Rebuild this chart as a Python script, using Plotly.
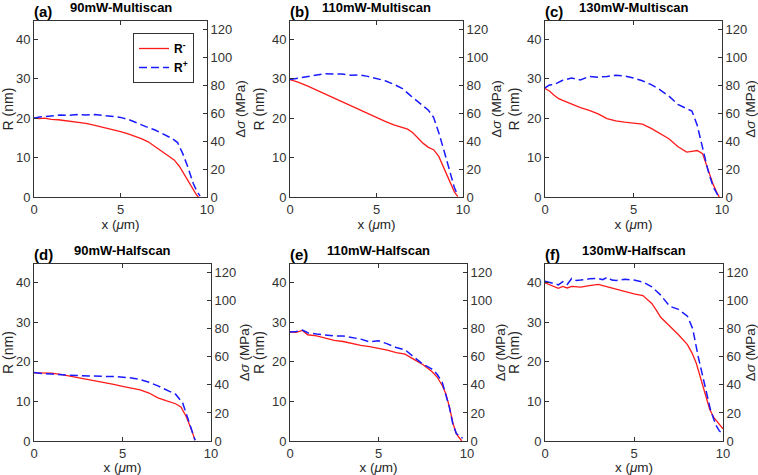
import plotly.graph_objects as go

# ---------------- data (x in µm, R in nm) ----------------
titles = ["90mW-Multiscan", "110mW-Multiscan", "130mW-Multiscan",
          "90mW-Halfscan", "110mW-Halfscan", "130mW-Halfscan"]
labels = ["(a)", "(b)", "(c)", "(d)", "(e)", "(f)"]

xm_a = [0, 0.3, 0.6, 1, 1.4, 1.8, 2.2, 2.6, 3, 3.4, 3.8, 4.2, 4.6, 5, 5.4, 5.8, 6.2, 6.6, 7, 7.4, 7.8, 8.1, 8.4, 8.7, 9, 9.2, 9.4, 9.5]
rm_a = [20.1, 19.9, 20.0, 19.7, 19.6, 19.4, 19.1, 19.0, 18.7, 18.3, 17.9, 17.5, 17.1, 16.6, 16.1, 15.5, 14.8, 14.0, 12.8, 11.7, 10.4, 9.4, 7.8, 5.6, 3.3, 1.8, 0.5, 0]
xp_a = [0, 0.3, 0.6, 1, 1.5, 2, 2.5, 3, 3.5, 4, 4.5, 5, 5.5, 6, 6.5, 7, 7.5, 8, 8.3, 8.6, 8.9, 9.2, 9.4, 9.6]
rp_a = [20.0, 20.3, 20.4, 20.6, 20.8, 20.7, 20.9, 20.8, 20.9, 20.7, 20.5, 20.2, 19.6, 18.6, 17.8, 17.0, 16.0, 14.8, 13.8, 11.0, 7.5, 3.5, 1.6, 0.2]

xm_b = [0, 0.25, 0.5, 1, 1.5, 2, 2.5, 3, 3.5, 4, 4.5, 5, 5.5, 6, 6.5, 6.8, 7.1, 7.4, 7.7, 8, 8.3, 8.6, 8.9, 9.2, 9.5, 9.7]
rm_b = [29.8, 29.5, 29.1, 28.2, 27.2, 26.2, 25.0, 24.1, 23.0, 22.0, 21.1, 20.0, 19.2, 18.3, 17.7, 17.2, 16.3, 15.0, 13.6, 12.6, 12.0, 10.3, 7.2, 4.0, 1.3, 0.1]
xp_b = [0, 0.3, 0.6, 1, 1.5, 2, 2.5, 3, 3.5, 4, 4.5, 5, 5.5, 6, 6.5, 7, 7.5, 8, 8.3, 8.6, 8.9, 9.2, 9.5, 9.7]
rp_b = [29.8, 30.0, 30.3, 30.6, 30.8, 31.3, 31.2, 31.2, 30.9, 31.0, 30.6, 30.0, 29.5, 28.6, 27.5, 25.6, 23.8, 22.0, 20.2, 16.3, 11.8, 6.9, 2.4, 0.4]

xm_c = [0, 0.25, 0.5, 0.75, 1, 1.5, 2, 2.5, 3, 3.5, 4, 4.5, 5, 5.5, 6, 6.5, 7, 7.5, 8, 8.3, 8.6, 8.9, 9.1, 9.3, 9.5, 9.7, 9.85]
rm_c = [27.5, 26.9, 25.9, 25.0, 24.5, 23.5, 22.7, 22.0, 21.1, 19.9, 19.3, 19.0, 18.8, 18.5, 17.4, 16.2, 14.8, 12.8, 11.4, 11.6, 11.8, 11.0, 8.5, 5.5, 3.2, 1.2, 0]
xp_c = [0, 0.25, 0.5, 1, 1.5, 2, 2.5, 3, 3.5, 4, 4.5, 5, 5.5, 6, 6.5, 7, 7.5, 8, 8.3, 8.6, 8.9, 9.2, 9.5, 9.8]
rp_c = [27.7, 28.4, 28.5, 29.6, 30.2, 29.7, 30.6, 30.4, 30.6, 30.9, 30.7, 30.2, 29.5, 28.5, 27.2, 25.6, 23.5, 22.4, 21.8, 18.2, 12.5, 6.9, 2.6, 0.2]

xm_d = [0, 0.5, 1, 1.5, 2, 2.5, 3, 3.5, 4, 4.5, 5, 5.5, 6, 6.5, 7, 7.5, 8, 8.3, 8.6, 8.9, 9.1]
rm_d = [17.2, 17.1, 17.1, 16.8, 16.4, 16.0, 15.6, 15.2, 14.8, 14.3, 13.8, 13.3, 12.9, 12.1, 10.9, 10.1, 9.4, 8.6, 6.2, 2.8, 0.2]
xp_d = [0, 0.5, 1, 1.5, 2, 2.5, 3, 3.5, 4, 4.5, 5, 5.5, 6, 6.5, 7, 7.5, 8, 8.4, 8.7, 9, 9.1]
rp_d = [17.3, 17.0, 16.9, 16.7, 16.6, 16.5, 16.4, 16.4, 16.3, 16.3, 16.1, 15.9, 15.5, 14.8, 13.9, 12.9, 11.8, 9.6, 5.4, 1.2, 0.2]

xm_e = [0, 0.35, 0.7, 1, 1.5, 2, 2.5, 3, 3.5, 4, 4.5, 5, 5.5, 6, 6.5, 7, 7.5, 8, 8.3, 8.6, 8.8, 9, 9.2, 9.4, 9.6, 9.7]
rm_e = [27.5, 27.4, 27.9, 26.8, 26.5, 25.9, 25.4, 25.1, 24.6, 24.1, 23.8, 23.4, 22.9, 22.3, 21.9, 20.6, 19.3, 17.6, 16.2, 14.0, 12.0, 8.7, 4.6, 1.8, 0.4, 0]
xp_e = [0, 0.35, 0.7, 1, 1.5, 2, 2.5, 3, 3.5, 4, 4.5, 5, 5.5, 6, 6.5, 7, 7.5, 8, 8.3, 8.6, 8.8, 9, 9.2, 9.4, 9.6, 9.75]
rp_e = [27.5, 27.6, 28.0, 27.3, 27.0, 26.8, 26.5, 26.5, 26.1, 25.7, 25.0, 25.3, 24.5, 23.6, 23.0, 21.1, 19.4, 18.2, 16.9, 14.8, 12.0, 8.6, 4.3, 1.9, 1.2, 0.7]

xm_f = [0, 0.25, 0.5, 0.75, 1, 1.25, 1.5, 2, 2.5, 3, 3.25, 3.5, 4, 4.5, 5, 5.5, 6, 6.25, 6.5, 7, 7.5, 8, 8.25, 8.5, 8.75, 9, 9.25, 9.5, 9.75, 10]
rm_f = [39.9, 39.4, 38.9, 38.5, 39.0, 38.6, 39.0, 38.8, 39.2, 39.5, 39.2, 38.9, 38.2, 37.7, 37.1, 36.7, 34.7, 33.0, 31.2, 29.0, 26.8, 24.3, 22.3, 19.6, 15.7, 11.3, 8.0, 5.8, 4.3, 3.1]
xp_f = [0, 0.25, 0.5, 0.75, 1, 1.25, 1.5, 1.75, 2, 2.5, 3, 3.25, 3.5, 3.75, 4, 4.5, 5, 5.5, 6, 6.5, 7, 7.5, 8, 8.3, 8.6, 9, 9.3, 9.6, 9.8, 10]
rp_f = [40.3, 40.0, 39.6, 39.4, 40.2, 39.5, 41.0, 40.5, 40.6, 40.9, 41.0, 40.7, 41.3, 40.6, 40.5, 40.8, 40.6, 40.1, 38.9, 36.8, 34.0, 33.2, 31.5, 28.3, 21.4, 13.8, 7.8, 4.0, 2.5, 1.9]

r_minus = [(xm_a, rm_a), (xm_b, rm_b), (xm_c, rm_c), (xm_d, rm_d), (xm_e, rm_e), (xm_f, rm_f)]
r_plus = [(xp_a, rp_a), (xp_b, rp_b), (xp_c, rp_c), (xp_d, rp_d), (xp_e, rp_e), (xp_f, rp_f)]

x_ticks = [0, 5, 10]
r_ticks = [0, 10, 20, 30, 40]
s_ticks = [0, 20, 40, 60, 80, 100, 120]

# ---------------- layout helpers ----------------
W, H = 758, 475
boxes = [(34, 207, 21, 197), (290, 463, 21, 197), (545, 722, 21, 197),
         (34, 211, 264, 441), (290, 467, 264, 441), (545, 723, 264, 441)]


def px(p):
    return p / W


def py(p):
    return 1 - p / H


FONT = "Arial, Liberation Sans, sans-serif"
AX = "#333333"
tickfont = dict(family=FONT, size=13, color="#333333")

fig = go.Figure()
layout = dict(width=W, height=H, margin=dict(l=0, r=0, t=0, b=0, autoexpand=False),
              paper_bgcolor="white", plot_bgcolor="white",
              font=dict(family=FONT, color="#262626"),
              showlegend=True, annotations=[])

for i in range(6):
    n = i + 1
    xa = "x" if n == 1 else f"x{n}"
    yl = 2 * n - 1
    yr = 2 * n
    yla = "y" if yl == 1 else f"y{yl}"
    yra = f"y{yr}"
    x0, x1, y0, y1 = boxes[i]
    xdom = [px(x0), px(x1)]
    ydom = [py(y1), py(y0)]

    layout["xaxis" if n == 1 else f"xaxis{n}"] = dict(
        domain=xdom, anchor=yla, range=[0, 10], tickvals=x_ticks, automargin=False,
        ticks="inside", ticklen=4, tickcolor=AX, showline=True, linecolor=AX,
        linewidth=1, mirror="ticks", showgrid=False, zeroline=False,
        tickfont=tickfont,
        title=dict(text="x (<i>μ</i>m)", font=dict(family=FONT, size=13.5, color="#262626"), standoff=2))
    layout["yaxis" if yl == 1 else f"yaxis{yl}"] = dict(
        domain=ydom, anchor=xa, range=[0, 44.65], tickvals=r_ticks, automargin=False,
        ticks="inside", ticklen=4, tickcolor=AX, showline=True, linecolor=AX,
        linewidth=1, showgrid=False, zeroline=False, tickfont=tickfont,
        title=dict(text="R (nm)", font=dict(family=FONT, size=14, color="#262626"), standoff=4))
    layout[f"yaxis{yr}"] = dict(
        domain=ydom, anchor=xa, overlaying=yla, side="right", range=[0, 126.2],
        tickvals=s_ticks, ticks="inside", ticklen=4, tickcolor=AX, showline=True,
        linecolor=AX, linewidth=1, showgrid=False, zeroline=False, tickfont=tickfont,
        automargin=False,
        title=dict(text="Δ<i>σ</i> (MPa)", font=dict(family=FONT, size=13.5, color="#262626"), standoff=4))

    xm, rm = r_minus[i]
    xp, rp = r_plus[i]
    fig.add_trace(go.Scatter(x=xm, y=rm, xaxis=xa, yaxis=yla, mode="lines",
                             line=dict(color="#ff1a1a", width=1.3),
                             name="<b>R<sup>-</sup></b>", showlegend=(n == 1)))
    fig.add_trace(go.Scatter(x=xp, y=rp, xaxis=xa, yaxis=yla, mode="lines",
                             line=dict(color="#1a1aff", width=1.5, dash="8px,4px"),
                             name="<b>R<sup>+</sup></b>", showlegend=(n == 1)))
    # placeholder trace so the right axis is always rendered
    fig.add_trace(go.Scatter(x=[None], y=[None], xaxis=xa, yaxis=yra,
                             mode="lines", showlegend=False, hoverinfo="skip"))

    ty = y0 - 11
    layout["annotations"].append(dict(
        text=f"<b>{labels[i]}</b>", x=px(x0 - 2), y=py(ty + 1),
        xref="paper", yref="paper", xanchor="left", yanchor="middle",
        showarrow=False, font=dict(family=FONT, size=15, color="black")))
    layout["annotations"].append(dict(
        text=f"<b>{titles[i]}</b>", x=px((x0 + x1) / 2), y=py(ty - 2),
        xref="paper", yref="paper", xanchor="center", yanchor="middle",
        showarrow=False, font=dict(family=FONT, size=13, color="black")))

layout["legend"] = dict(x=px(194), y=py(33), xanchor="right", yanchor="top",
                        bgcolor="white", bordercolor="#333333", borderwidth=1,
                        font=dict(family=FONT, size=12, color="black"),
                        tracegroupgap=0, itemwidth=30)
fig.update_layout(**layout)
# remove the browser's default 8px body margin so the figure fills the window
fig.write_html("out.html", config={"displayModeBar": False},
               post_script="document.body.style.margin='0';")
